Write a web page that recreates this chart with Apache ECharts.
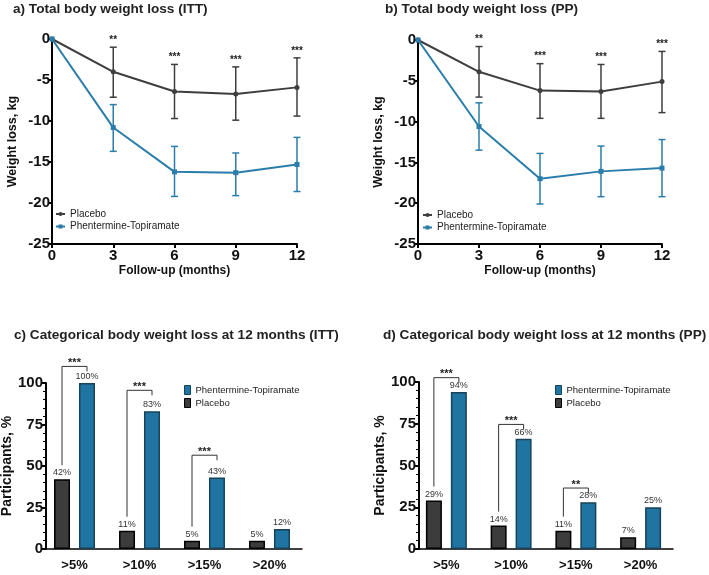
<!DOCTYPE html>
<html><head><meta charset="utf-8">
<script src="https://cdn.jsdelivr.net/npm/echarts@6/dist/echarts.min.js"></script>
<style>html,body{margin:0;padding:0;background:#fff}#c{width:709px;height:575px}</style>
</head><body><div id="c"></div>
<script>
// ---------- data ----------
const months = [0, 3, 6, 9, 12];
// a) ITT
const aPlacebo     = [0, -4.0, -6.4, -6.7, -5.9];
const aPlaceboLow  = [null, -7.1, -9.7, -9.9, -9.4];
const aPlaceboHigh = [null, -1.0, -3.1, -3.4, -2.3];
const aPhen        = [0, -10.8, -16.2, -16.3, -15.3];
const aPhenLow     = [null, -13.7, -19.2, -19.1, -18.6];
const aPhenHigh    = [null, -8.0, -13.1, -13.9, -12.0];
const aStars       = ['', '**', '***', '***', '***'];
// b) PP
const bPlacebo     = [0, -3.9, -6.2, -6.3, -5.1];
const bPlaceboLow  = [null, -7.0, -9.6, -9.6, -8.9];
const bPlaceboHigh = [null, -0.8, -2.9, -3.0, -1.4];
const bPhen        = [0, -10.6, -17.0, -16.1, -15.7];
const bPhenLow     = [null, -13.5, -20.1, -19.2, -19.2];
const bPhenHigh    = [null, -7.7, -13.9, -13.0, -12.2];
const bStars       = ['', '**', '***', '***', '***'];
// c) / d) categorical
const categories = ['>5%', '>10%', '>15%', '>20%'];
const cPlacebo = [42, 11, 5, 5];
const cPhen    = [100, 83, 43, 12];
const cBracketLevel = [110, 95.6, 56.5];
const cBracketStars = ['***', '***', '***'];
const dPlacebo = [29, 14, 11, 7];
const dPhen    = [94, 66, 28, 25];
const dBracketLevel = [102.6, 74.6, 36.5];
const dBracketStars = ['***', '***', '**'];

// ---------- styles ----------
const GREY = '#3e3e3e';
const BLUE = '#2a7dab';
const BAR_BLUE = '#1f74a2';
const BAR_BLUE_BORDER = '#17435a';
const BAR_GREY = '#3c3c3c';
const BAR_W = 16, BAR_GAP = 9;
const FONT = '"Liberation Sans"';

function errRender(color) {
  return function (params, api) {
    const x = api.value(0), lo = api.value(1), hi = api.value(2);
    const p1 = api.coord([x, hi]), p2 = api.coord([x, lo]);
    const w = 3.5, st = { stroke: color, lineWidth: 1.5 };
    return { type: 'group', children: [
      { type: 'line', shape: { x1: p1[0], y1: p1[1], x2: p2[0], y2: p2[1] }, style: st },
      { type: 'line', shape: { x1: p1[0] - w, y1: p1[1], x2: p1[0] + w, y2: p1[1] }, style: st },
      { type: 'line', shape: { x1: p2[0] - w, y1: p2[1], x2: p2[0] + w, y2: p2[1] }, style: st }
    ]};
  };
}
function starRender(stars) {
  return function (params, api) {
    const idx = api.value(2);
    const p = api.coord([api.value(0), api.value(1)]);
    return { type: 'text', style: { text: stars[idx], x: p[0], y: p[1] - 2, align: 'center',
      verticalAlign: 'bottom', fontSize: 10, fontWeight: 'bold', fill: '#222', fontFamily: FONT } };
  };
}
function bracketRender(placebo, levels, stars) {
  return function (params, api) {
    const i = api.value(0);
    const cx = api.coord([i, 0])[0];
    const off = (BAR_W + BAR_GAP) / 2;
    const lx = cx - off, rx = cx + off;
    const yb = api.coord([i, levels[i]])[1];
    const yl = api.coord([i, placebo[i]])[1] - 14;
    return { type: 'group', children: [
      { type: 'polyline', shape: { points: [[lx, yl], [lx, yb], [rx, yb], [rx, yb + 5]] },
        style: { stroke: '#333', lineWidth: 1, fill: null } },
      { type: 'text', style: { text: stars[i], x: (lx + rx) / 2, y: yb + 2, align: 'center',
        verticalAlign: 'bottom', fontSize: 11, fontWeight: 'bold', fill: '#222', fontFamily: FONT } }
    ]};
  };
}
function pairs(xs, ys) { return xs.map((x, i) => [x, ys[i]]); }
function errData(lo, hi) {
  return months.map((m, i) => [m, lo[i], hi[i]]).filter(d => d[1] !== null);
}
function starData(hi) {
  return months.map((m, i) => [m, hi[i], i]).filter(d => d[1] !== null);
}

const tickText = { fontSize: 15, fontWeight: 'bold', color: '#111', fontFamily: FONT };
function lineXAxis(gi) {
  return { type: 'value', gridIndex: gi, min: 0, max: 12, interval: 3,
    name: 'Follow-up (months)', nameLocation: 'middle', nameGap: 21,
    nameTextStyle: { fontSize: 12, fontWeight: 'bold', color: '#111', fontFamily: FONT },
    axisLine: { onZero: false, lineStyle: { color: '#000', width: 2 } },
    axisTick: { length: 4, lineStyle: { color: '#000', width: 2 } },
    axisLabel: Object.assign({ margin: 4 }, tickText), splitLine: { show: false } };
}
function lineYAxis(gi, gap) {
  return { type: 'value', gridIndex: gi, min: -25, max: 0, interval: 5,
    name: 'Weight loss, kg', nameLocation: 'middle', nameGap: gap, nameRotate: 90,
    nameTextStyle: { fontSize: 12.5, fontWeight: 'bold', color: '#111', fontFamily: FONT },
    axisLine: { show: true, onZero: false, lineStyle: { color: '#000', width: 2 } },
    axisTick: { show: true, length: 4, lineStyle: { color: '#000', width: 2 } },
    axisLabel: Object.assign({ margin: 2 }, tickText), splitLine: { show: false } };
}
function barXAxis(gi) {
  return { type: 'category', gridIndex: gi, data: categories,
    axisLine: { lineStyle: { color: '#000', width: 1.5 } },
    axisTick: { alignWithLabel: true, length: 3, lineStyle: { color: '#000' } },
    axisLabel: { margin: 10, fontSize: 13, fontWeight: 'bold', color: '#111', fontFamily: FONT } };
}
function barYAxis(gi, gap, off) {
  return { type: 'value', gridIndex: gi, min: 0, max: 100, interval: 25, offset: off,
    name: 'Participants, %', nameLocation: 'middle', nameGap: gap, nameRotate: 90,
    nameTextStyle: { fontSize: 14, fontWeight: 'bold', color: '#111', fontFamily: FONT },
    axisLine: { show: true, lineStyle: { color: '#000', width: 2 } },
    axisTick: { show: true, length: 4, lineStyle: { color: '#000', width: 2 } },
    minorTick: { show: true, splitNumber: 5, length: 3, lineStyle: { color: '#000', width: 1 } },
    axisLabel: Object.assign({ margin: 3 }, tickText), splitLine: { show: false } };
}
function lineSeries(name, data, gi, color, symbol) {
  return { type: 'line', name: name, xAxisIndex: gi, yAxisIndex: gi, data: data,
    symbol: symbol, symbolSize: 5, color: color, lineStyle: { color: color, width: 2 },
    itemStyle: { color: color }, z: 3, animation: false };
}
function barSeries(name, data, gi, fill, border) {
  return { type: 'bar', name: name, xAxisIndex: gi, yAxisIndex: gi, data: data,
    barWidth: BAR_W, barGap: (BAR_GAP / BAR_W * 100).toFixed(0) + '%',
    itemStyle: { color: fill, borderColor: border, borderWidth: 1.5 },
    label: { show: true, position: 'top', distance: 2, formatter: '{c}%', fontSize: 9, color: '#333', fontFamily: FONT },
    animation: false };
}
const titleStyle = { fontSize: 13.6, fontWeight: 'bold', color: '#222', fontFamily: FONT };
const legText = { fontSize: 10, color: '#222', fontFamily: FONT };
const legTextBar = { fontSize: 9.5, color: '#222', fontFamily: FONT };

const option = {
  backgroundColor: '#fff',
  animation: false,
  textStyle: { fontFamily: FONT },
  title: [
    { text: 'a) Total body weight loss (ITT)', left: 13, top: 2, textStyle: titleStyle, padding: 0 },
    { text: 'b) Total body weight loss (PP)', left: 385, top: 2, textStyle: titleStyle, padding: 0 },
    { text: 'c) Categorical body weight loss at 12 months (ITT)', left: 14, top: 328, textStyle: titleStyle, padding: 0 },
    { text: 'd) Categorical body weight loss at 12 months (PP)', left: 383, top: 328, textStyle: titleStyle, padding: 0 }
  ],
  legend: [
    { left: 55, top: 209, orient: 'vertical', itemGap: 2.5, itemWidth: 9, itemHeight: 5, padding: 0, textStyle: legText,
      selectedMode: false, data: [
        { name: 'Placebo', itemStyle: { color: GREY } },
        { name: 'Phentermine-Topiramate', itemStyle: { color: BLUE } }] },
    { left: 422, top: 210, orient: 'vertical', itemGap: 2.5, itemWidth: 9, itemHeight: 5, padding: 0, textStyle: legText,
      selectedMode: false, data: [
        { name: 'Placebo', itemStyle: { color: GREY } },
        { name: 'Phentermine-Topiramate', itemStyle: { color: BLUE } }] },
    { left: 184, top: 385, orient: 'vertical', itemGap: 3, itemWidth: 6, itemHeight: 9, itemTextGap: 3, padding: 0, textStyle: legTextBar,
      selectedMode: false, data: [
        { name: 'Phentermine-Topiramate', icon: 'rect', itemStyle: { color: BAR_BLUE, borderColor: BAR_BLUE_BORDER, borderWidth: 1 } },
        { name: 'Placebo', icon: 'rect', itemStyle: { color: BAR_GREY, borderColor: '#000', borderWidth: 1 } }] },
    { left: 555, top: 385, orient: 'vertical', itemGap: 3, itemWidth: 6, itemHeight: 9, itemTextGap: 3, padding: 0, textStyle: legTextBar,
      selectedMode: false, data: [
        { name: 'Phentermine-Topiramate', icon: 'rect', itemStyle: { color: BAR_BLUE, borderColor: BAR_BLUE_BORDER, borderWidth: 1 } },
        { name: 'Placebo', icon: 'rect', itemStyle: { color: BAR_GREY, borderColor: '#000', borderWidth: 1 } }] }
  ],
  grid: [
    { left: 52, top: 39, width: 245, height: 205, containLabel: false, outerBoundsMode: 'none' },
    { left: 418, top: 40, width: 244, height: 204, containLabel: false, outerBoundsMode: 'none' },
    { left: 42, top: 383, width: 260, height: 166, containLabel: false, outerBoundsMode: 'none' },
    { left: 414, top: 382, width: 259, height: 167, containLabel: false, outerBoundsMode: 'none' }
  ],
  xAxis: [lineXAxis(0), lineXAxis(1), barXAxis(2), barXAxis(3)],
  yAxis: [lineYAxis(0, 33), lineYAxis(1, 33), barYAxis(2, 25, -4), barYAxis(3, 27, -5)],
  series: [
    // panel a
    { type: 'custom', xAxisIndex: 0, yAxisIndex: 0, renderItem: errRender(GREY), data: errData(aPlaceboLow, aPlaceboHigh), z: 2, silent: true },
    { type: 'custom', xAxisIndex: 0, yAxisIndex: 0, renderItem: errRender(BLUE), data: errData(aPhenLow, aPhenHigh), z: 2, silent: true },
    lineSeries('Placebo', pairs(months, aPlacebo), 0, GREY, 'circle'),
    lineSeries('Phentermine-Topiramate', pairs(months, aPhen), 0, BLUE, 'rect'),
    { type: 'custom', xAxisIndex: 0, yAxisIndex: 0, renderItem: starRender(aStars), data: starData(aPlaceboHigh), silent: true },
    // panel b
    { type: 'custom', xAxisIndex: 1, yAxisIndex: 1, renderItem: errRender(GREY), data: errData(bPlaceboLow, bPlaceboHigh), z: 2, silent: true },
    { type: 'custom', xAxisIndex: 1, yAxisIndex: 1, renderItem: errRender(BLUE), data: errData(bPhenLow, bPhenHigh), z: 2, silent: true },
    lineSeries('Placebo', pairs(months, bPlacebo), 1, GREY, 'circle'),
    lineSeries('Phentermine-Topiramate', pairs(months, bPhen), 1, BLUE, 'rect'),
    { type: 'custom', xAxisIndex: 1, yAxisIndex: 1, renderItem: starRender(bStars), data: starData(bPlaceboHigh), silent: true },
    // panel c
    barSeries('Placebo', cPlacebo, 2, BAR_GREY, '#000'),
    barSeries('Phentermine-Topiramate', cPhen, 2, BAR_BLUE, BAR_BLUE_BORDER),
    { type: 'custom', xAxisIndex: 2, yAxisIndex: 2, renderItem: bracketRender(cPlacebo, cBracketLevel, cBracketStars),
      data: cBracketLevel.map((v, i) => [i, v]), silent: true },
    // panel d
    barSeries('Placebo', dPlacebo, 3, BAR_GREY, '#000'),
    barSeries('Phentermine-Topiramate', dPhen, 3, BAR_BLUE, BAR_BLUE_BORDER),
    { type: 'custom', xAxisIndex: 3, yAxisIndex: 3, renderItem: bracketRender(dPlacebo, dBracketLevel, dBracketStars),
      data: dBracketLevel.map((v, i) => [i, v]), silent: true }
  ]
};
const chart = echarts.init(document.getElementById('c'), null, { renderer: 'canvas' });
chart.setOption(option);
</script>
</body></html>
